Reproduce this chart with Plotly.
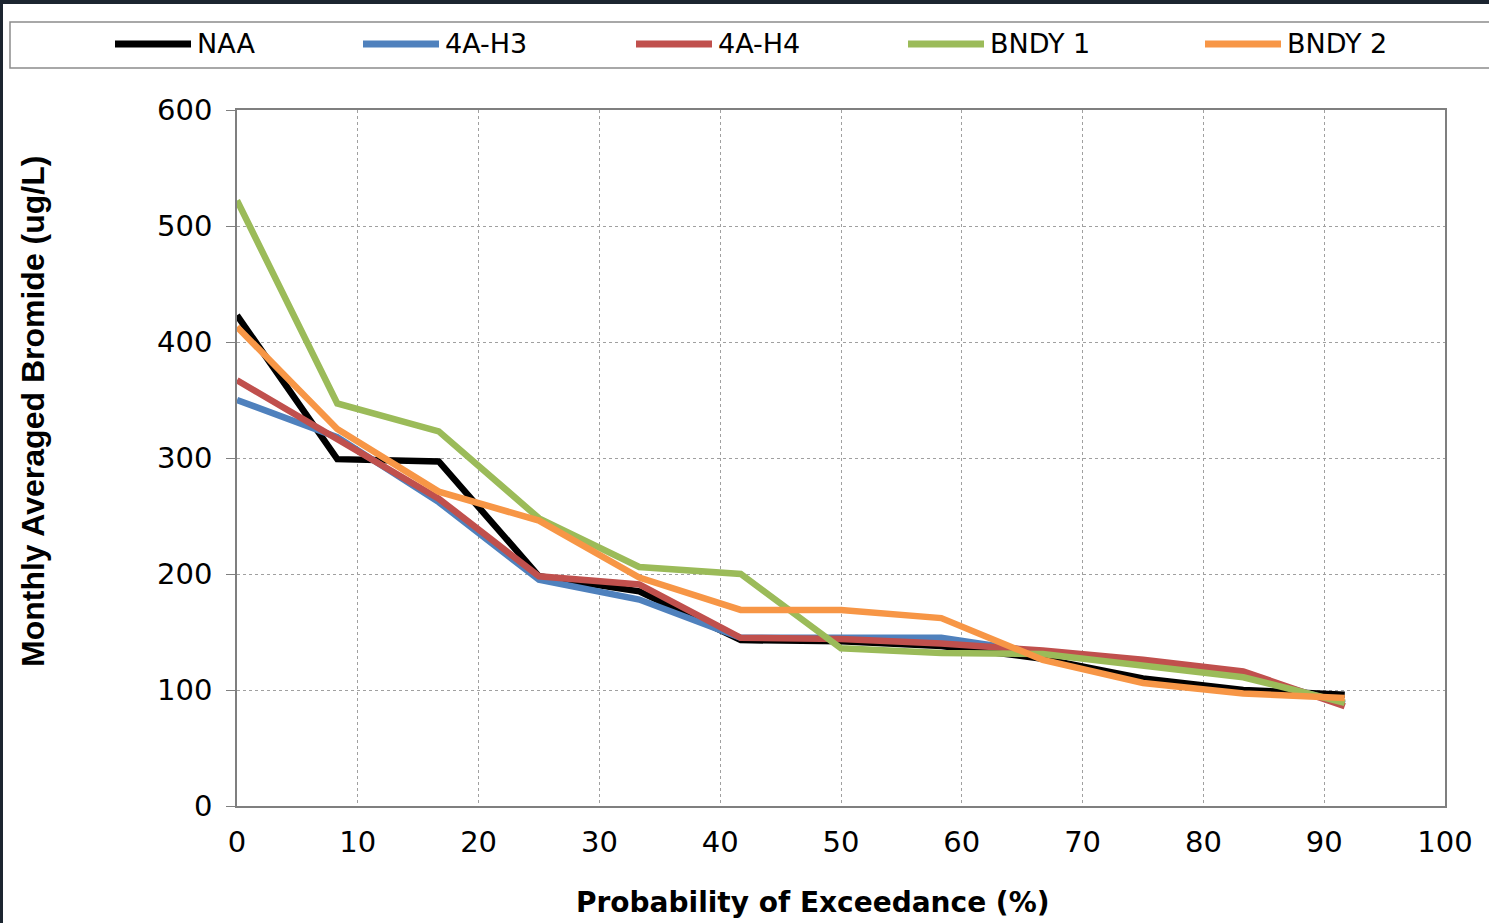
import plotly.graph_objects as go

# ---- data ----
exceedance = [0, 8.3, 16.7, 25, 33.3, 41.7, 50, 58.3, 66.7, 75, 83.3, 91.7]
naa = [423, 299, 297, 198, 185, 143, 142, 138, 127, 110, 100, 96]
h3 = [350, 318, 262, 195, 178, 145, 145, 145, 132, 124, 113, 88]
h4 = [367, 316, 265, 198, 191, 145, 144, 140, 134, 126, 116, 86]
bndy1 = [522, 347, 323, 248, 206, 200, 136, 132, 131, 121, 111, 89]
bndy2 = [413, 325, 271, 246, 197, 169, 169, 162, 126, 106, 97, 93]
series_names = ["NAA", "4A-H3", "4A-H4", "BNDY 1", "BNDY 2"]
series_vals = [naa, h3, h4, bndy1, bndy2]
colors = ["#000000", "#4F81BD", "#C0504D", "#9BBB59", "#F79646"]
x_ticks = list(range(0, 101, 10))
y_ticks = list(range(0, 601, 100))

# ---- layout geometry (pixels) ----
W, H = 1489, 923
L, R, T, B = 237, 1445, 110, 806
pw, ph = R - L, B - T


def px(x):
    return (x - L) / pw


def py(y):
    return (B - y) / ph


fig = go.Figure()
for name, vals, c in zip(series_names, series_vals, colors):
    fig.add_trace(go.Scatter(x=exceedance, y=vals, name=name, mode="lines",
                             line=dict(color=c, width=6.5), showlegend=False))

shapes = []
annotations = []
# dark screenshot frame
shapes.append(dict(type="rect", xref="paper", yref="paper", x0=px(-5), x1=px(W + 5),
                   y0=py(4), y1=py(-5), fillcolor="#1c2530", line=dict(width=0), layer="above"))
shapes.append(dict(type="rect", xref="paper", yref="paper", x0=px(-5), x1=px(3),
                   y0=py(H + 5), y1=py(-5), fillcolor="#1c2530", line=dict(width=0), layer="above"))
# legend box
shapes.append(dict(type="rect", xref="paper", yref="paper", x0=px(10), x1=px(W + 10),
                   y0=py(68), y1=py(22), line=dict(color="#8c8c8c", width=1.5),
                   fillcolor="rgba(0,0,0,0)"))
leg_x = [115, 363, 636, 908, 1205]
for name, c, lx in zip(series_names, colors, leg_x):
    shapes.append(dict(type="line", xref="paper", yref="paper", x0=px(lx), x1=px(lx + 76),
                       y0=py(44), y1=py(44), line=dict(color=c, width=7)))
    annotations.append(dict(text=name, xref="paper", yref="paper", x=px(lx + 80), y=py(44),
                            xanchor="left", yanchor="middle", showarrow=False,
                            font=dict(family="DejaVu Sans", size=27, color="#000000")))

# axis titles
annotations.append(dict(text="<b>Probability of Exceedance (%)</b>", xref="paper", yref="paper",
                        x=px(813), y=py(902), xanchor="center", yanchor="middle", showarrow=False,
                        font=dict(family="DejaVu Sans", size=28, color="#000000")))
annotations.append(dict(text="<b>Monthly Averaged Bromide (ug/L)</b>", xref="paper", yref="paper",
                        x=px(33), y=py(412), xanchor="center", yanchor="middle", showarrow=False,
                        textangle=-90,
                        font=dict(family="Liberation Sans", size=32, color="#000000")))

fig.update_layout(
    width=W, height=H,
    margin=dict(l=L, r=W - R, t=T, b=H - B, pad=0),
    paper_bgcolor="white", plot_bgcolor="white",
    shapes=shapes, annotations=annotations,
    showlegend=False,
    xaxis=dict(range=[0, 100], tickvals=x_ticks, ticks="", showgrid=True,
               gridcolor="#a0a0a0", griddash="dot", gridwidth=1,
               showline=True, linecolor="#7f7f7f", linewidth=1.5, mirror=True,
               zeroline=False, ticklabelstandoff=9,
               tickfont=dict(family="DejaVu Sans", size=29, color="#000000")),
    yaxis=dict(range=[0, 600], tickvals=y_ticks, ticks="outside", ticklen=9,
               tickcolor="#7f7f7f", showgrid=True,
               gridcolor="#a0a0a0", griddash="dot", gridwidth=1,
               showline=True, linecolor="#7f7f7f", linewidth=1.5, mirror=True,
               zeroline=False, ticklabelstandoff=8,
               tickfont=dict(family="DejaVu Sans", size=29, color="#000000")),
)

fig.write_html("out.html", config={"displayModeBar": False},
               post_script="document.body.style.margin='0';document.body.style.overflow='hidden';")
